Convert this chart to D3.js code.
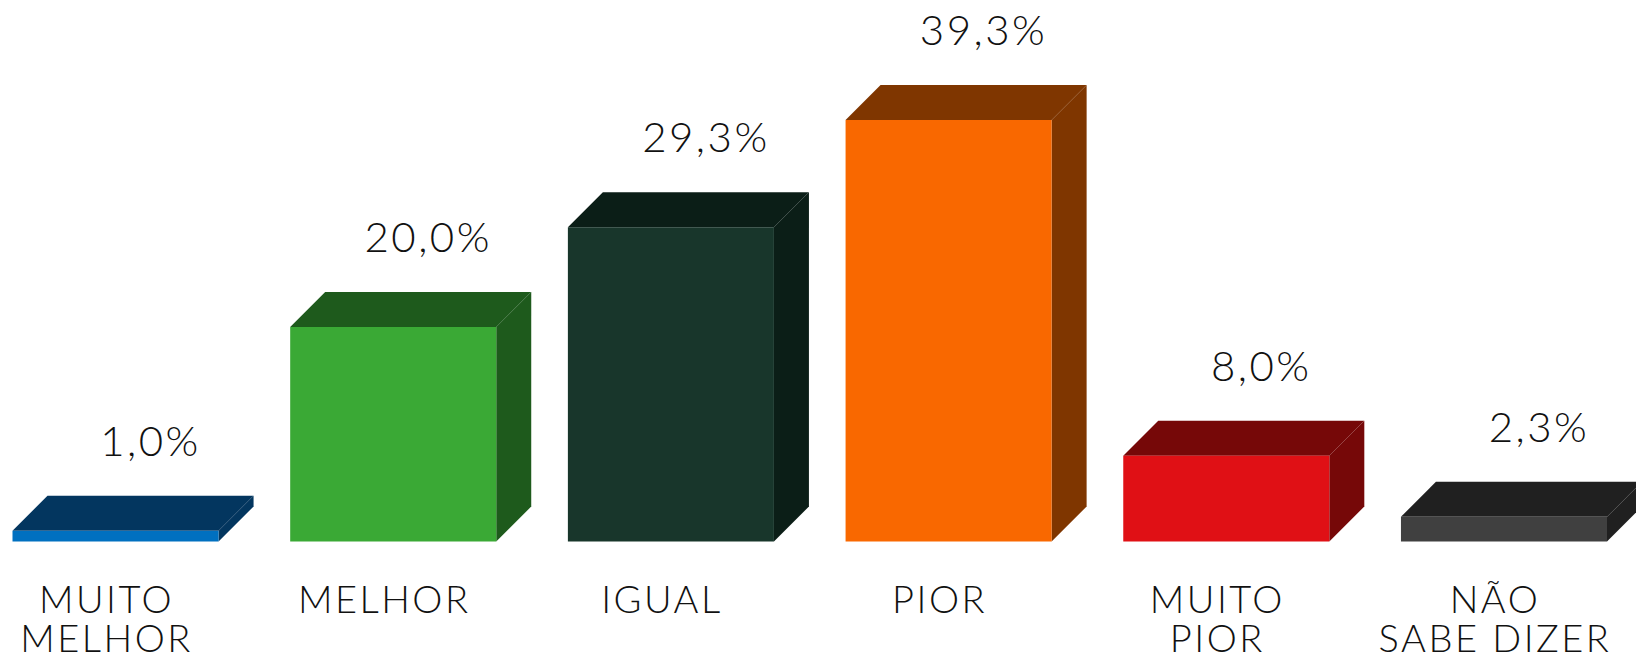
<!DOCTYPE html>
<html>
<head>
<meta charset="utf-8">
<script src="https://cdn.jsdelivr.net/npm/d3@7"></script>
<style>
  body { margin: 0; background: #ffffff; }
  svg text { font-family: "Lato", "Noto Sans", sans-serif; fill: #111; }
</style>
</head>
<body>
<script>
var width = 1636;
var height = 660;

var categories = ["MUITO MELHOR", "MELHOR", "IGUAL", "PIOR", "MUITO PIOR", "NÃO SABE DIZER"];
var labelLines = [["MUITO", "MELHOR"], ["MELHOR"], ["IGUAL"], ["PIOR"], ["MUITO", "PIOR"], ["NÃO", "SABE DIZER"]];
var values = [1.0, 20.0, 29.3, 39.3, 8.0, 2.3];
var valueLabels = ["1,0%", "20,0%", "29,3%", "39,3%", "8,0%", "2,3%"];
var frontColors = ["#0070c0", "#3aa935", "#18362b", "#f96800", "#e01015", "#404040"];
var sideColors = ["#03365f", "#1e5a1c", "#0b1e17", "#7f3600", "#760808", "#202020"];

var depth = 35;   // 3d offset
var base = 541.5;

var svg = d3.select("body")
    .append("svg")
    .attr("width", width)
    .attr("height", height);

var x = d3.scaleBand()
    .domain(categories)
    .range([12.5, 1607])
    .paddingInner(0.258)
    .paddingOuter(0);

var y = d3.scaleLinear()
    .domain([0, 39.3])
    .range([base, 120]);

var w = x.bandwidth();

var bars = svg.selectAll("g.bar")
    .data(categories)
    .enter()
    .append("g")
    .attr("class", "bar");

// top face
bars.append("polygon")
    .attr("points", function (d, i) {
        var x0 = x(d), y0 = y(values[i]);
        return [[x0, y0], [x0 + depth, y0 - depth], [x0 + w + depth, y0 - depth], [x0 + w, y0]].join(" ");
    })
    .attr("fill", function (d, i) { return sideColors[i]; });

// side face
bars.append("polygon")
    .attr("points", function (d, i) {
        var x0 = x(d), y0 = y(values[i]);
        return [[x0 + w, y0], [x0 + w + depth, y0 - depth], [x0 + w + depth, base - depth], [x0 + w, base]].join(" ");
    })
    .attr("fill", function (d, i) { return sideColors[i]; });

// front face
bars.append("rect")
    .attr("x", function (d) { return x(d); })
    .attr("y", function (d, i) { return y(values[i]); })
    .attr("width", w)
    .attr("height", function (d, i) { return base - y(values[i]); })
    .attr("fill", function (d, i) { return frontColors[i]; });

// value labels
svg.selectAll("text.value")
    .data(categories)
    .enter()
    .append("text")
    .attr("class", "value")
    .attr("x", function (d) { return x(d) + w / 2 + depth; })
    .attr("y", function (d, i) { return y(values[i]) - depth - 40; })
    .attr("text-anchor", "middle")
    .style("font-size", "42px")
    .style("font-weight", 300)
    .style("letter-spacing", "2.5px")
    .text(function (d, i) { return valueLabels[i]; });

// category labels
var cat = svg.selectAll("text.cat")
    .data(categories)
    .enter()
    .append("text")
    .attr("class", "cat")
    .attr("x", function (d) { return x(d) + w / 2 - 9; })
    .attr("y", 613)
    .attr("text-anchor", "middle")
    .style("font-size", "38px")
    .style("font-weight", 300)
    .style("letter-spacing", "2.5px");

cat.selectAll("tspan")
    .data(function (d, i) { return labelLines[i]; })
    .enter()
    .append("tspan")
    .attr("x", function () { return d3.select(this.parentNode).attr("x"); })
    .attr("dy", function (d, j) { return j === 0 ? 0 : 38.6; })
    .text(function (d) { return d; });
</script>
</body>
</html>
